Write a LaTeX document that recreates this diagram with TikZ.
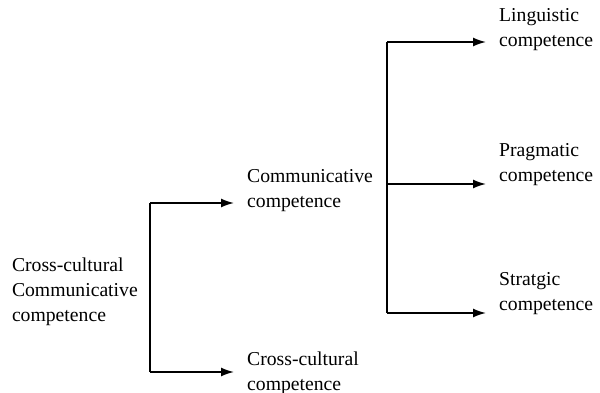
\documentclass[tikz,border=0pt]{standalone}
\usepackage{fontspec}
\setmainfont{Liberation Serif}
\usetikzlibrary{arrows.meta}
\begin{document}
\begin{tikzpicture}[x=0.025cm,y=-0.025cm,
   txt/.style={align=left,inner sep=0pt,outer xsep=0.33cm,anchor=west,
      font=\fontsize{14}{17.8}\selectfont},
   arr/.style={-{Latex[length=0.32cm,width=0.22cm]},line width=1.1pt}]
   \useasboundingbox (0,0) rectangle (600,393);

   % root
   \node[txt,outer xsep=0pt] (ccc) at (12,292) {Cross-cultural\\Communicative\\competence};

   % first level
   \coordinate (la) at (150,203);
   \coordinate (lb) at (150,372);
   \node[txt] (comm) at (234,191) {Communicative\\competence};
   \node[txt] (cult) at (234,373) {Cross-cultural\\competence};

   \draw[line width=1.1pt] (la) -- (lb);
   \draw[arr] (la) -- (la -| comm.west);
   \draw[arr] (lb) -- (lb -| cult.west);

   % second level
   \coordinate (ra) at (387,42);
   \coordinate (rm) at (387,184);
   \coordinate (rb) at (387,313);
   \node[txt] (ling) at (486,30) {Linguistic\\competence};
   \node[txt] (prag) at (486,165) {Pragmatic\\competence};
   \node[txt] (strat) at (486,294) {Stratgic\\competence};

   \draw[line width=1.1pt] (ra) -- (rb);
   \draw[arr] (ra) -- (ra -| ling.west);
   \draw[arr] (rm) -- (rm -| prag.west);
   \draw[arr] (rb) -- (rb -| strat.west);
\end{tikzpicture}
\end{document}
